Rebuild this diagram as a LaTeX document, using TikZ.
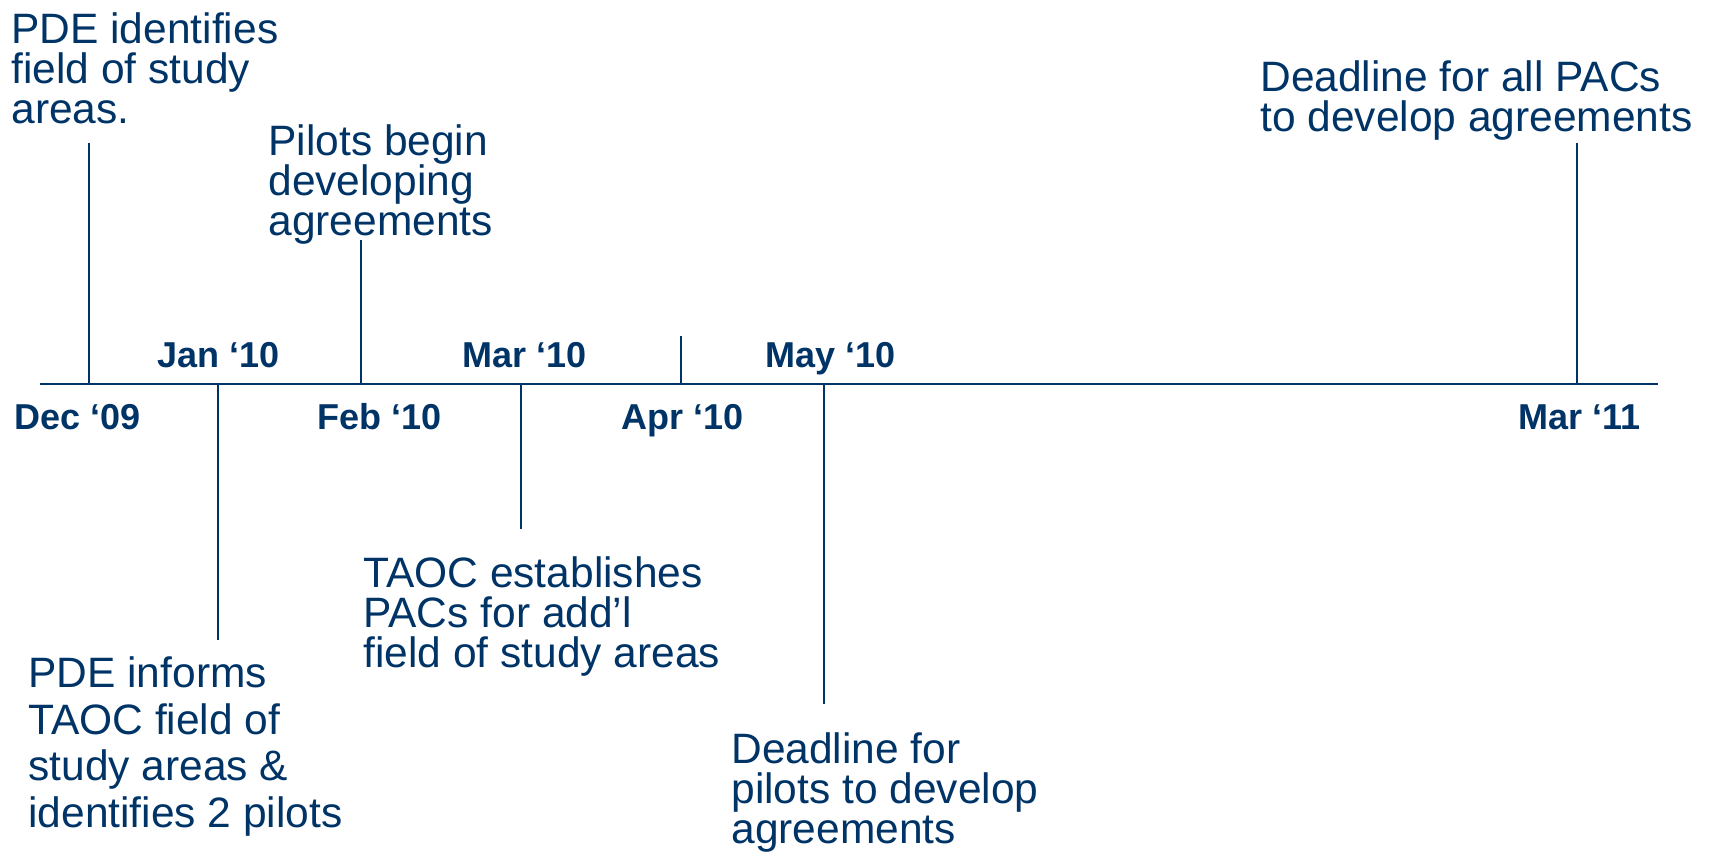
\documentclass[tikz,border=0pt]{standalone}
\usepackage{fontspec}
\setmainfont{Liberation Sans}
\usetikzlibrary{positioning}
\definecolor{navy}{RGB}{0,51,102}
\setlength{\lineskiplimit}{-20pt}

\tikzset{
  event/.style={anchor=base west, align=left, inner sep=0pt, text=navy,
    font=\fontsize{21.25pt}{20pt}\selectfont},
  month/.style={anchor=base, inner sep=0pt, text=navy,
    font=\bfseries\fontsize{18pt}{20pt}\selectfont},
  axisline/.style={navy, line width=1pt},
  stemline/.style={navy, line width=1pt},
}

\begin{document}
\begin{tikzpicture}[x=0.5pt,y=-0.5pt]
\useasboundingbox (0,0) rectangle (1716,854);

% Time axis
\coordinate (start) at (40,384);
\coordinate (end) at (1658,384);
\draw[axisline] (start) -- (end);

% Month labels
\node[month] (dec) at (78,430) {Dec ‘09};
\node[month] (jan) at (218.5,368) {Jan ‘10};
\node[month] (feb) at (380,430) {Feb ‘10};
\node[month] (mar) at (524.5,368) {Mar ‘10};
\node[month] (apr) at (682.5,430) {Apr ‘10};
\node[month] (may) at (831,368) {May ‘10};
\node[month] (mareleven) at (1579.5,430) {Mar ‘11};

% Events above the axis (placed by the baseline of their last line)
\node[event] (identify) at (11,124) {PDE identifies\\field of study\\areas.};
\node[event] (pilots) at (268,236) {Pilots begin\\developing\\agreements};
\node[event] (allpacs) at (1260,132) {Deadline for all PACs\\to develop agreements};

% Events below the axis
\node[event] (establish) at (363,667) {TAOC establishes\\PACs for add’l\\field of study areas};
\node[event, font=\fontsize{21.25pt}{23.25pt}\selectfont]
  (inform) at (28,827) {PDE informs\\TAOC field of\\study areas \&\\identifies 2 pilots};
\node[event] (pilotsdue) at (731,843) {Deadline for\\pilots to develop\\agreements};

% Stems
\coordinate (sdec) at (89,143);
\coordinate (sjan) at (218,640);
\coordinate (sfeb) at (361,240);
\coordinate (smar) at (521,529);
\coordinate (sapr) at (681,336);
\coordinate (smay) at (824,704);
\coordinate (smareleven) at (1577,143);
\foreach \s in {sdec,sjan,sfeb,smar,sapr,smay,smareleven}
  \draw[stemline] (\s) -- (\s |- start);
\end{tikzpicture}
\end{document}
